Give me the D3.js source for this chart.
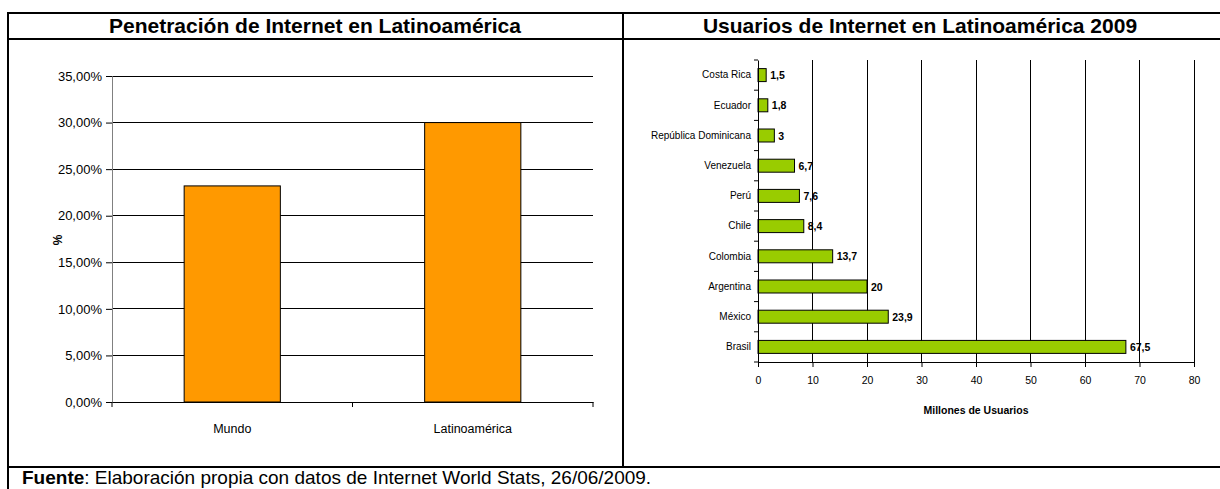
<!DOCTYPE html>
<html>
<head>
<meta charset="utf-8">
<script src="https://cdn.jsdelivr.net/npm/d3@7"></script>
<style>
  body { margin: 0; background: #fff; }
  svg text { fill: #000; }
  .narrow { font-family: "Liberation Sans", Arial, sans-serif; }
  .hdr { font-family: "Liberation Sans", Arial, sans-serif; font-weight: bold; font-size: 21px; }
</style>
</head>
<body>
<svg id="chart" width="1220" height="489"></svg>
<script>
// left chart: penetration
var regions = ['Mundo', 'Latinoamérica'];
var penetration = [23.2, 30.0];
var pctTicks = [0, 5, 10, 15, 20, 25, 30, 35];

// right chart: users (millions)
var countries = ['Costa Rica', 'Ecuador', 'República Dominicana', 'Venezuela', 'Perú', 'Chile', 'Colombia', 'Argentina', 'México', 'Brasil'];
var users = [1.5, 1.8, 3, 6.7, 7.6, 8.4, 13.7, 20, 23.9, 67.5];
var userTicks = [0, 10, 20, 30, 40, 50, 60, 70, 80];

var svg = d3.select('#chart');
var fmtComma = function (v) { return String(v).replace('.', ','); };

// table frame
var frame = svg.append('g').attr('stroke', '#000').attr('stroke-width', 2);
frame.append('line').attr('x1', 8).attr('x2', 1222).attr('y1', 13).attr('y2', 13);
frame.append('line').attr('x1', 8).attr('x2', 1222).attr('y1', 39).attr('y2', 39);
frame.append('line').attr('x1', 8).attr('x2', 1222).attr('y1', 467).attr('y2', 467);
frame.append('line').attr('x1', 8).attr('x2', 8).attr('y1', 12).attr('y2', 489);
frame.append('line').attr('x1', 623).attr('x2', 623).attr('y1', 12).attr('y2', 468);

svg.append('text').attr('class', 'hdr').attr('x', 315).attr('y', 33)
    .attr('text-anchor', 'middle').text('Penetración de Internet en Latinoamérica');
svg.append('text').attr('class', 'hdr').attr('x', 920).attr('y', 33)
    .attr('text-anchor', 'middle').text('Usuarios de Internet en Latinoamérica 2009');

var foot = svg.append('text').attr('class', 'hdr').attr('x', 22).attr('y', 484)
    .style('font-weight', 'normal').style('font-size', '19px');
foot.append('tspan').style('font-weight', 'bold').text('Fuente');
foot.append('tspan').text(': Elaboración propia con datos de Internet World Stats, 26/06/2009.');

// ---- left chart
var L = { left: 112, right: 593, top: 76, bottom: 402 };
var yL = d3.scaleLinear().domain([0, 35]).range([L.bottom, L.top]);
var xL = d3.scaleBand().domain(regions).range([L.left, L.right]).paddingInner(0.6).paddingOuter(0.3);
var xLb = d3.scaleBand().domain(regions).range([L.left, L.right]);

var gl = svg.append('g');
gl.selectAll('.grid').data(pctTicks.slice(1)).enter().append('line')
    .attr('x1', L.left).attr('x2', L.right)
    .attr('y1', function (d) { return yL(d); }).attr('y2', function (d) { return yL(d); })
    .attr('stroke', '#000').attr('stroke-width', 1).attr('shape-rendering', 'crispEdges');

gl.selectAll('.bar').data(penetration).enter().append('rect')
    .attr('x', function (d, i) { return xL(regions[i]); })
    .attr('width', xL.bandwidth())
    .attr('y', function (d) { return yL(d); })
    .attr('height', function (d) { return yL(0) - yL(d); })
    .attr('fill', '#FF9900').attr('stroke', '#000').attr('stroke-width', 1);

var yAxisL = gl.append('g').attr('class', 'narrow').attr('transform', 'translate(' + L.left + ',0)')
    .call(d3.axisLeft(yL).tickValues(pctTicks).tickSize(6).tickPadding(4)
        .tickFormat(function (d) { return d3.format('.2f')(d).replace('.', ',') + '%'; }));
yAxisL.selectAll('text').style('font-size', '13px');
yAxisL.select('.domain').attr('stroke', '#808080');

var xAxisL = gl.append('g').attr('class', 'narrow').attr('transform', 'translate(0,' + L.bottom + ')')
    .call(d3.axisBottom(xLb).tickSize(0).tickPadding(22));
xAxisL.selectAll('text').style('font-size', '12.5px');
xAxisL.select('.domain').attr('stroke', '#000');
gl.selectAll('.xt').data([L.left, xLb('Latinoamérica'), L.right]).enter().append('line')
    .attr('x1', function (d) { return d; }).attr('x2', function (d) { return d; })
    .attr('y1', L.bottom).attr('y2', L.bottom + 5).attr('stroke', '#000');

gl.append('text').attr('class', 'narrow').attr('transform', 'translate(62,240) rotate(-90)')
    .attr('text-anchor', 'middle').style('font-size', '12px').style('font-weight', 'bold').text('%');

// ---- right chart
var R = { left: 758, right: 1194, top: 60, bottom: 362 };
var xR = d3.scaleLinear().domain([0, 80]).range([R.left, R.right]);
var yR = d3.scaleBand().domain(countries).range([R.top, R.bottom]).paddingInner(0.57).paddingOuter(0.285);
var yRb = d3.scaleBand().domain(countries).range([R.top, R.bottom]);

var gr = svg.append('g');
gr.selectAll('.vg').data(userTicks.slice(1)).enter().append('line')
    .attr('x1', function (d) { return xR(d); }).attr('x2', function (d) { return xR(d); })
    .attr('y1', R.top).attr('y2', R.bottom)
    .attr('stroke', '#000').attr('stroke-width', 1).attr('shape-rendering', 'crispEdges');

gr.selectAll('.hb').data(users).enter().append('rect')
    .attr('x', xR(0))
    .attr('y', function (d, i) { return yR(countries[i]); })
    .attr('width', function (d) { return xR(d) - xR(0); })
    .attr('height', yR.bandwidth())
    .attr('fill', '#99CC00').attr('stroke', '#000').attr('stroke-width', 1);

gr.selectAll('.vl').data(users).enter().append('text')
    .attr('class', 'narrow')
    .attr('x', function (d) { return xR(d) + 4; })
    .attr('y', function (d, i) { return yR(countries[i]) + yR.bandwidth() / 2 + 4; })
    .style('font-size', '10.5px').style('font-weight', 'bold')
    .text(function (d) { return fmtComma(d); });

var xAxisR = gr.append('g').attr('class', 'narrow').attr('transform', 'translate(0,' + R.bottom + ')')
    .call(d3.axisBottom(xR).tickValues(userTicks).tickSize(5).tickPadding(10));
xAxisR.selectAll('text').style('font-size', '10.5px');
xAxisR.select('.domain').attr('stroke', '#000');

var yAxisR = gr.append('g').attr('class', 'narrow').attr('transform', 'translate(' + R.left + ',0)')
    .call(d3.axisLeft(yRb).tickSize(0).tickPadding(7));
yAxisR.selectAll('text').style('font-size', '10px');
yAxisR.select('.domain').attr('stroke', '#000');
gr.selectAll('.yt').data(countries.map(function (c) { return yRb(c); }).concat([R.bottom])).enter().append('line')
    .attr('x1', R.left - 4).attr('x2', R.left)
    .attr('y1', function (d) { return d; }).attr('y2', function (d) { return d; })
    .attr('stroke', '#000');

gr.append('text').attr('class', 'narrow').attr('x', (R.left + R.right) / 2).attr('y', 414)
    .attr('text-anchor', 'middle').style('font-size', '10.5px').style('font-weight', 'bold')
    .text('Millones de Usuarios');
</script>
</body>
</html>
